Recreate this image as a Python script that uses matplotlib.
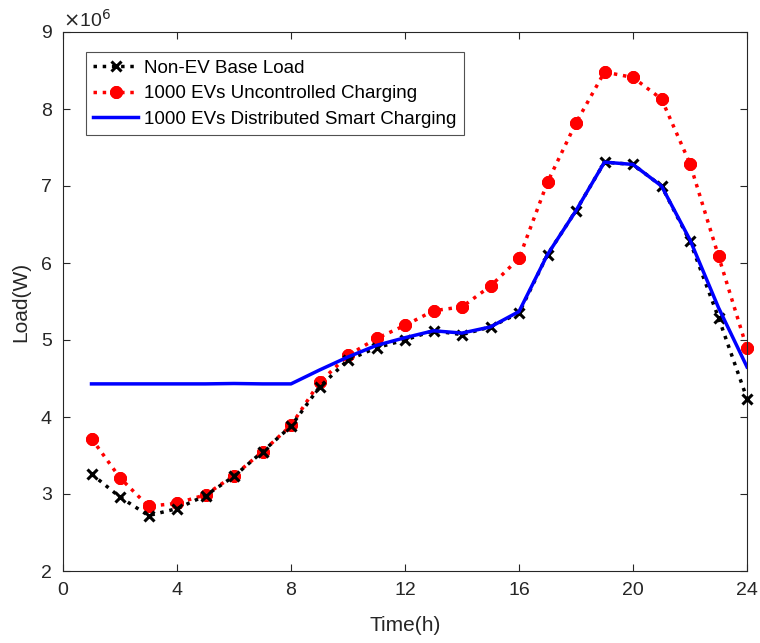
import numpy as np
import matplotlib.pyplot as plt

plt.rcParams['font.family'] = ['Liberation Sans', 'DejaVu Sans']

hours = list(range(1, 25))
# loads in units of 1e6 W
base_load = [3.26, 2.96, 2.72, 2.81, 2.98, 3.23, 3.55, 3.88, 4.39, 4.74, 4.90, 5.00,
             5.12, 5.07, 5.17, 5.35, 6.11, 6.68, 7.31, 7.28, 7.00, 6.28, 5.29, 4.24]
uncontrolled = [3.72, 3.21, 2.84, 2.88, 2.99, 3.24, 3.55, 3.89, 4.45, 4.80, 5.02, 5.19,
                5.38, 5.43, 5.70, 6.06, 7.05, 7.82, 8.48, 8.41, 8.13, 7.29, 6.09, 4.89]
smart = [4.43, 4.43, 4.43, 4.43, 4.43, 4.435, 4.43, 4.43, 4.61, 4.78, 4.93, 5.03,
         5.12, 5.09, 5.17, 5.37, 6.11, 6.68, 7.31, 7.28, 7.00, 6.30, 5.42, 4.65]

fig = plt.figure(figsize=(7.6, 6.43), dpi=100)
ax = fig.add_axes([63/760, 1 - 571/643, (747-63)/760, (571-32)/643])

ax.plot(hours, base_load, color='black', linestyle=':', linewidth=2.5,
        marker='x', markersize=7, markeredgewidth=2.2, label='Non-EV Base Load',
        clip_on=False, zorder=3)
ax.plot(hours, uncontrolled, color='red', linestyle=':', linewidth=2.5,
        marker=(8, 2, 0), markersize=9, markeredgewidth=3,
        label='1000 EVs Uncontrolled Charging', clip_on=False, zorder=2)
ax.plot(hours, smart, color='blue', linestyle='-', linewidth=2.5,
        label='1000 EVs Distributed Smart Charging', zorder=4)

ax.set_xlim(0, 24)
ax.set_ylim(2, 9)
ax.set_xticks([0, 4, 8, 12, 16, 20, 24])
ax.set_yticks([2, 3, 4, 5, 6, 7, 8, 9])
ax.tick_params(direction='in', top=True, right=True, labelsize=14, colors='#262626',
               length=5, pad=8)
for s in ax.spines.values():
    s.set_color('#262626')
    s.set_linewidth(0.8)

ax.set_xlabel('Time(h)', fontsize=15, color='#262626', labelpad=12)
ax.set_ylabel('Load(W)', fontsize=15, color='#262626', labelpad=8)
ax.text(0.0, 1.003, r'$\times$10$^6$', transform=ax.transAxes, fontsize=14,
        color='#262626', va='bottom', ha='left')

leg = ax.legend(loc='upper left', bbox_to_anchor=(0.033, 0.963), fontsize=13.5,
                frameon=True, fancybox=False, edgecolor='#262626', handlelength=2.4,
                handletextpad=0.3, borderpad=0.4, labelspacing=0.45, borderaxespad=0)
leg.get_frame().set_linewidth(0.8)

fig.savefig('out.png', dpi=100)
